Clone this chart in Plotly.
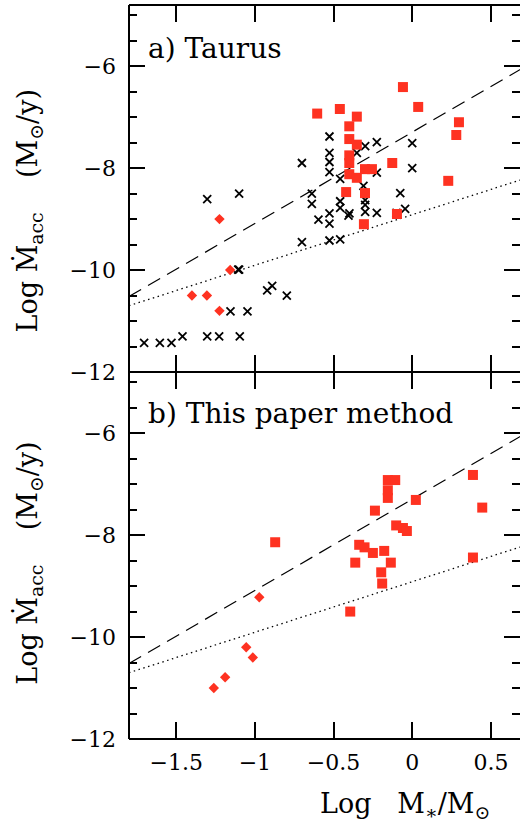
import plotly.graph_objects as go
from plotly.subplots import make_subplots

RED = "#fe3221"
FONT = "DejaVu Serif"

# ---- Panel a: Taurus ----
taurus_sq_logm = [-0.604, -0.46, -0.352, -0.40, -0.40, -0.352, -0.40, -0.40, -0.40, -0.352,
                  -0.30, -0.256, -0.42, -0.30, -0.307, -0.127, -0.097, -0.059, 0.038, 0.297,
                  0.28, 0.229]
taurus_sq_logmacc = [-6.93, -6.84, -6.99, -7.18, -7.43, -7.54, -7.75, -7.90, -8.12, -8.19,
                     -8.02, -8.02, -8.47, -8.49, -9.10, -7.90, -8.90, -6.41, -6.80, -7.10,
                     -7.35, -8.25]

taurus_dia_logm = [-1.225, -1.157, -1.40, -1.305, -1.225]
taurus_dia_logmacc = [-9.00, -10.00, -10.50, -10.50, -10.80]

taurus_x_logm = [-1.704, -1.604, -1.530, -1.460, -1.303, -1.227, -1.096, -1.155, -1.047,
                 -0.922, -0.890, -0.797, -1.106, -1.100, -1.303, -1.100,
                 -0.701, -0.526, -0.526, -0.526, -0.526, -0.458, -0.638, -0.638, -0.596,
                 -0.526, -0.526, -0.526, -0.701, -0.458, -0.458, -0.458, -0.399, -0.405,
                 -0.352, -0.299, -0.225, -0.225, -0.310, -0.299, -0.299, -0.299, -0.225,
                 -0.076, -0.100, -0.045, 0.000, 0.000]
taurus_x_logmacc = [-11.43, -11.43, -11.43, -11.30, -11.30, -11.30, -11.30, -10.81, -10.81,
                    -10.40, -10.31, -10.50, -9.99, -9.99, -8.61, -8.50,
                    -7.90, -7.38, -7.70, -7.88, -8.08, -8.21, -8.50, -8.70, -9.01,
                    -8.89, -9.09, -9.42, -9.45, -9.40, -8.65, -8.78, -8.89, -8.93,
                    -7.70, -7.57, -7.49, -8.09, -8.35, -8.63, -8.72, -8.86, -8.88,
                    -8.49, -8.88, -8.80, -7.51, -8.00]

# ---- Panel b: this paper method ----
paper_sq_logm = [-0.871, -0.394, -0.362, -0.337, -0.303, -0.250, -0.237, -0.178, -0.136,
                 -0.197, -0.191, -0.155, -0.108, -0.155, -0.155, -0.102, -0.059, -0.034,
                 0.023, 0.386, 0.445, 0.386]
paper_sq_logmacc = [-8.14, -9.50, -8.54, -8.19, -8.24, -8.35, -7.52, -8.31, -8.54,
                    -8.73, -8.95, -6.92, -6.92, -7.12, -7.27, -7.81, -7.86, -7.92,
                    -7.31, -6.82, -7.46, -8.44]

paper_dia_logm = [-0.972, -1.055, -1.013, -1.189, -1.261]
paper_dia_logmacc = [-9.22, -10.20, -10.40, -10.79, -11.00]

# Reference relations (same in both panels)
rel_logm = [-1.8, 0.7]
dashed_logmacc = [-10.52, -6.04]
dotted_logmacc = [-10.70, -8.22]

x_ticks = [-1.5, -1.0, -0.5, 0.0, 0.5]
x_tick_text = ["\u22121.5", "\u22121", "\u22120.5", "0", "0.5"]
y_ticks = [-12, -10, -8, -6]
y_tick_text = ["\u221212", "\u221210", "\u22128", "\u22126"]

fig = make_subplots(rows=2, cols=1, shared_xaxes=True, vertical_spacing=0)


def add_panel(row, sq_x, sq_y, dia_x, dia_y, cross_x=None, cross_y=None):
    fig.add_trace(go.Scatter(x=rel_logm, y=dashed_logmacc, mode="lines",
                             line=dict(color="black", width=1.2, dash="14px,8px")),
                  row=row, col=1)
    fig.add_trace(go.Scatter(x=rel_logm, y=dotted_logmacc, mode="lines",
                             line=dict(color="black", width=1.3, dash="1.5px,3.5px")),
                  row=row, col=1)
    if cross_x is not None:
        fig.add_trace(go.Scatter(x=cross_x, y=cross_y, mode="markers",
                                 marker=dict(symbol="x-thin-open", size=8, color="black",
                                             line=dict(color="black", width=1.8))),
                      row=row, col=1)
    fig.add_trace(go.Scatter(x=sq_x, y=sq_y, mode="markers",
                             marker=dict(symbol="square", size=10, color=RED,
                                         line=dict(width=0))),
                  row=row, col=1)
    fig.add_trace(go.Scatter(x=dia_x, y=dia_y, mode="markers",
                             marker=dict(symbol="diamond", size=8, color=RED,
                                         line=dict(width=0))),
                  row=row, col=1)


add_panel(1, taurus_sq_logm, taurus_sq_logmacc, taurus_dia_logm, taurus_dia_logmacc,
          taurus_x_logm, taurus_x_logmacc)
add_panel(2, paper_sq_logm, paper_sq_logmacc, paper_dia_logm, paper_dia_logmacc)

axis_common = dict(showline=False, showgrid=False, zeroline=False,
                   ticks="inside", mirror="ticks", tickcolor="black",
                   tickfont=dict(family=FONT, size=22, color="black"))

for r in (1, 2):
    fig.update_xaxes(range=[-1.8, 0.685], tickvals=x_ticks, ticktext=x_tick_text,
                     ticklen=17, tickwidth=1.5, showticklabels=(r == 2),
                     ticklabelstandoff=8, row=r, col=1, **axis_common)
    fig.update_yaxes(range=[-12, -4.8], tickvals=y_ticks, ticktext=y_tick_text,
                     ticklen=16, tickwidth=1.5, ticklabelstandoff=12,
                     minor=dict(dtick=0.5, tick0=-12, ticks="inside", ticklen=8,
                                tickwidth=1.5, tickcolor="black"),
                     row=r, col=1, **axis_common)

# Frame: left edge, top, panel divider and bottom
for x0, y0, x1, y1 in [(0, 0, 0, 1), (0, 1, 1, 1), (0, 0.5, 1, 0.5), (0, 0, 1, 0)]:
    fig.add_shape(type="line", xref="paper", yref="paper", x0=x0, y0=y0, x1=x1, y1=y1,
                  line=dict(color="black", width=2))

ann_font = dict(family=FONT, size=27, color="black")
y_title = "Log\u00a0\u1e40<sub>acc</sub>\u00a0\u00a0\u00a0\u00a0(M<sub>\u2299</sub>/y)"
x_title = "Log\u00a0\u00a0\u00a0M<sub>\u2217</sub>/M<sub>\u2299</sub>"

fig.add_annotation(text=y_title, textangle=-90, xref="paper", yref="paper",
                   x=-0.256, y=0.72, xanchor="center", yanchor="middle",
                   showarrow=False, font=ann_font)
fig.add_annotation(text=y_title, textangle=-90, xref="paper", yref="paper",
                   x=-0.256, y=0.24, xanchor="center", yanchor="middle",
                   showarrow=False, font=ann_font)
fig.add_annotation(text=x_title, xref="paper", yref="paper",
                   x=0.706, y=-0.09, xanchor="center", yanchor="middle",
                   showarrow=False, font=ann_font)

panel_font = dict(family=FONT, size=28, color="black")
fig.add_annotation(text="a)\u00a0Taurus", xref="paper", yref="paper",
                   x=0.043, y=0.941, xanchor="left", yanchor="middle",
                   showarrow=False, font=panel_font)
fig.add_annotation(text="b)\u00a0This\u00a0paper\u00a0method", xref="paper", yref="paper",
                   x=0.043, y=0.443, xanchor="left", yanchor="middle",
                   showarrow=False, font=panel_font)

fig.update_layout(width=520, height=823, showlegend=False,
                  margin=dict(l=129, r=0, t=5, b=84),
                  plot_bgcolor="white", paper_bgcolor="white")

fig.write_html("out.html")
